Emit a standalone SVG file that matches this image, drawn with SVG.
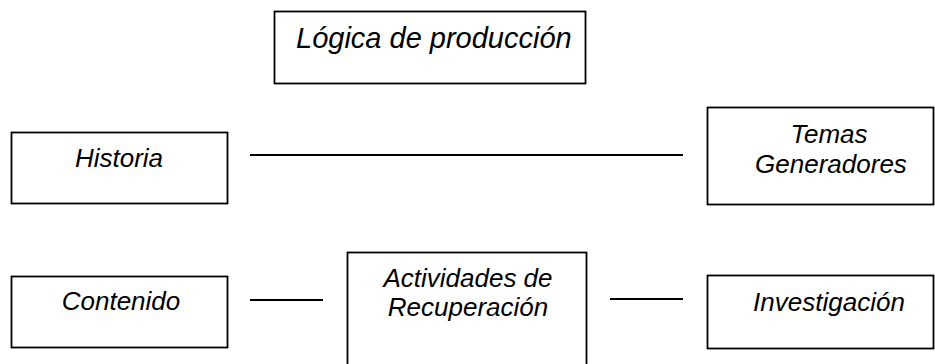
<svg xmlns="http://www.w3.org/2000/svg" width="935" height="364" viewBox="0 0 935 364">
<style>
.box{fill:#fff;stroke:#000;stroke-width:1.8}
.t{font-family:"Liberation Sans",Arial,sans-serif;font-style:italic;font-size:26px;fill:#000}
.h{font-size:29px}
.m{text-anchor:middle}
.c{stroke:#000;stroke-width:1.8;fill:none}
</style>
<rect width="935" height="364" fill="#fff"/>
<g id="logica">
<rect class="box" x="274.5" y="11.5" width="311" height="72"/>
<text class="t h" x="296" y="48">Lógica de producción</text>
</g>
<g id="historia">
<rect class="box" x="11.5" y="132.5" width="216" height="71"/>
<text class="t m" x="119" y="167">Historia</text>
</g>
<g id="temas">
<rect class="box" x="707.5" y="107.5" width="226" height="97"/>
<text class="t m" x="829" y="143">Temas</text>
<text class="t m" x="831" y="173">Generadores</text>
</g>
<g id="contenido">
<rect class="box" x="11.5" y="276.5" width="216" height="71"/>
<text class="t m" x="121" y="310">Contenido</text>
</g>
<g id="actividades">
<rect class="box" x="347.5" y="252.5" width="239" height="130"/>
<text class="t m" x="468" y="287">Actividades de</text>
<text class="t m" x="468" y="316">Recuperación</text>
</g>
<g id="investigacion">
<rect class="box" x="707.5" y="275.5" width="226" height="73"/>
<text class="t m" x="829" y="311">Investigación</text>
</g>
<g id="connectors">
<line class="c" x1="250" y1="155" x2="683" y2="155"/>
<line class="c" x1="250" y1="300" x2="323" y2="300"/>
<line class="c" x1="610" y1="299" x2="683" y2="299"/>
</g>
</svg>
